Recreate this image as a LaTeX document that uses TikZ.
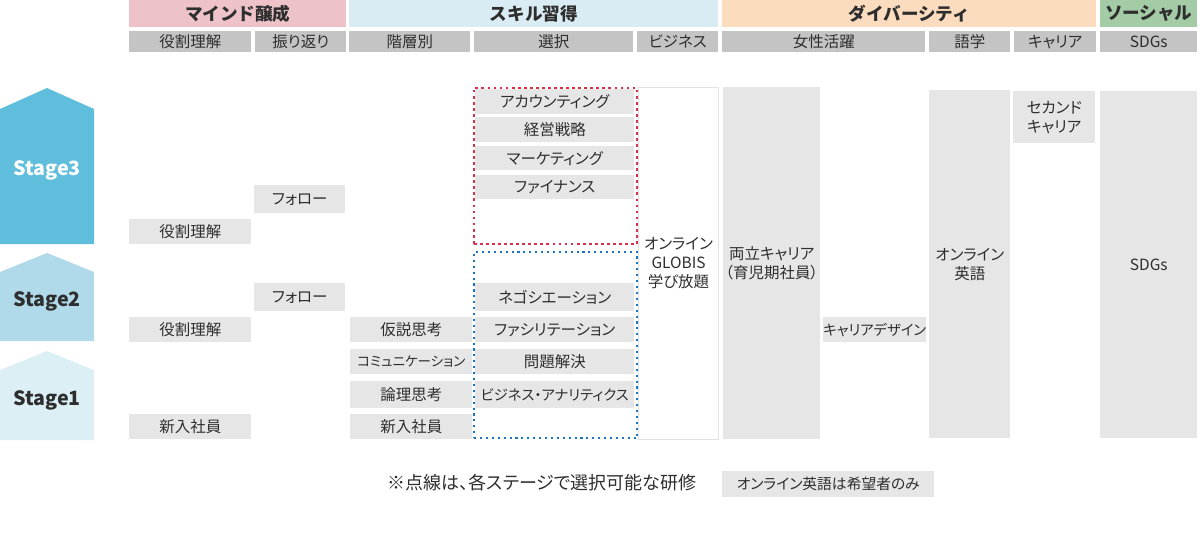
\documentclass[tikz,border=0pt]{standalone}
\usepackage{fontspec}
\setmainfont[RawFeature=+palt]{Noto Sans CJK JP}
\newfontfamily\fullwidth{Noto Sans CJK JP}
\usetikzlibrary{positioning}

\definecolor{textgray}{HTML}{2E2E2E}
\definecolor{headpink}{HTML}{EDC3C9}
\definecolor{headblue}{HTML}{D9ECF3}
\definecolor{headpeach}{HTML}{FBDCBE}
\definecolor{headgreen}{HTML}{A3CBA6}
\definecolor{subgray}{HTML}{C4C4C4}
\definecolor{cellgray}{HTML}{E6E6E6}
\definecolor{stagethree}{HTML}{5FBEDC}
\definecolor{stagetwo}{HTML}{B0D9E9}
\definecolor{stageone}{HTML}{DBEFF5}
\definecolor{redsel}{HTML}{D9304A}
\definecolor{bluesel}{HTML}{1874C4}
\definecolor{frame}{HTML}{E2E2E2}

\newcommand\unitpx{0.025cm}

\begin{document}
\begin{tikzpicture}[x=0.025cm, y=-0.025cm,
    font=\fontsize{11}{13.5}\selectfont, text=textgray,
    sized/.style 2 args={minimum width=#1*\unitpx, minimum height=#2*\unitpx},
    band/.style={fill=#1, inner sep=0pt, anchor=north west, font=\fullwidth\fontsize{12.5}{14}\selectfont\bfseries},
    subhead/.style={fill=subgray, inner sep=0pt, anchor=north west},
    cell/.style={fill=cellgray, inner sep=0pt, anchor=north west, align=center},
    small/.style={font=\fontsize{#1}{13.5}\selectfont},
    openbox/.style={draw=frame, line width=0.7pt, fill=white, inner sep=0pt, anchor=north west, align=center},
    redset/.style={draw=redsel, line width=1.3pt, dash pattern=on 2pt off 2.3pt, inner sep=0pt, anchor=north west},
    blueset/.style={draw=bluesel, line width=1.6pt, dash pattern=on 1.5pt off 2.7pt, inner sep=0pt, anchor=north west},
    stagelabel/.style={font=\fontsize{14}{16}\selectfont\bfseries}]

\useasboundingbox (0,0) rectangle (1200,542);

% Category bands
\node[band=headpink, sized={217}{27}] (mind) at (129,0) {マインド醸成};
\node[band=headblue, sized={369}{27}] (skill) at (349,0) {スキル習得};
\node[band=headpeach, sized={374}{27}] (divers) at (722,0) {ダイバーシティ};
\node[band=headgreen, sized={97}{27}] (social) at (1100,0) {ソーシャル};

% Sub headings
\node[subhead, sized={122}{21}] (hrole) at (129,31) {役割理解};
\node[subhead, sized={91}{21}] (hreview) at (255,31) {振り返り};
\node[subhead, sized={121}{21}] (hlevel) at (349,31) {階層別};
\node[subhead, sized={159}{21}] (hchoice) at (474,31) {選択};
\node[subhead, sized={81}{21}] (hbiz) at (637,31) {ビジネス};
\node[subhead, sized={203}{21}] (hwomen) at (722,31) {女性活躍};
\node[subhead, sized={81}{21}] (hlang) at (929,31) {語学};
\node[subhead, sized={82}{21}] (hcareer) at (1014,31) {キャリア};
\node[subhead, sized={97}{21}] (hsdgs) at (1100,31) {SDGs};

% Stage arrows
\fill[stagethree] (0,244) -- (0,109) -- (47,88) -- (94,109) -- (94,244) -- cycle;
\fill[stagetwo] (0,341) -- (0,272) -- (47,253) -- (94,272) -- (94,341) -- cycle;
\fill[stageone] (0,440) -- (0,370) -- (47,351) -- (94,370) -- (94,440) -- cycle;
\node[stagelabel, text=white] (stage3) at (47,170) {Stage3};
\node[stagelabel] (stage2) at (47,301) {Stage2};
\node[stagelabel] (stage1) at (47,400) {Stage1};

% Mind building
\node[cell, sized={122}{25}] (role3) at (129,219) {役割理解};
\node[cell, sized={91}{28}] (follow3) at (254,185) {フォロー};
\node[cell, sized={91}{28}] (follow2) at (254,283) {フォロー};
\node[cell, sized={122}{25}] (role2) at (129,317) {役割理解};
\node[cell, sized={122}{25}] (fresh1) at (129,414) {新入社員};

% Skill by level
\node[cell, sized={122}{25}] (hypo) at (350,317) {仮説思考};
\node[cell, sized={122}{25}, small=9.6] (comm) at (350,349) {コミュニケーション};
\node[cell, sized={122}{27}] (logic) at (350,381) {論理思考};
\node[cell, sized={122}{25}] (fresh2) at (350,414) {新入社員};

% Skill by choice
\node[redset, sized={163}{156}] (upper) at (473,87) {};
\node[blueset, sized={163}{186}] (lower) at (473,251) {};
\node[cell, sized={159}{25}] (acct) at (475,89) {アカウンティング};
\node[cell, sized={159}{25}] (strat) at (475,117) {経営戦略};
\node[cell, sized={159}{24}] (mkt) at (475,146) {マーケティング};
\node[cell, sized={159}{24}] (fin) at (475,175) {ファイナンス};
\node[cell, sized={159}{28}] (nego) at (475,283) {ネゴシエーション};
\node[cell, sized={159}{25}] (facil) at (475,317) {ファシリテーション};
\node[cell, sized={159}{25}] (solve) at (475,349) {問題解決};
\node[cell, sized={159}{27}, small=10.2] (analytics) at (475,381) {ビジネス・アナリティクス};

% Business / diversity / social
\node[openbox, sized={80}{352}] (globis) at (638,87) {オンライン\\GLOBIS\\学び放題};
\node[cell, sized={97}{352}] (balance) at (723,87) {両立キャリア\\（育児期社員）};
\node[cell, sized={103}{25}, small=10.2] (design) at (823,317) {キャリアデザイン};
\node[cell, sized={81}{348}] (english) at (929,90) {オンライン\\英語};
\node[cell, sized={82}{52}] (second) at (1013,91) {セカンド\\キャリア};
\node[cell, sized={97}{347}] (sdgs) at (1100,91) {SDGs};

% Notes
\node[font=\fontsize{12.8}{15}\selectfont] (note) at (542,483) {※点線は、各ステージで選択可能な研修};
\node[cell, sized={212}{26}, small=10.5] (hope) at (722,471) {オンライン英語は希望者のみ};
\end{tikzpicture}
\end{document}
